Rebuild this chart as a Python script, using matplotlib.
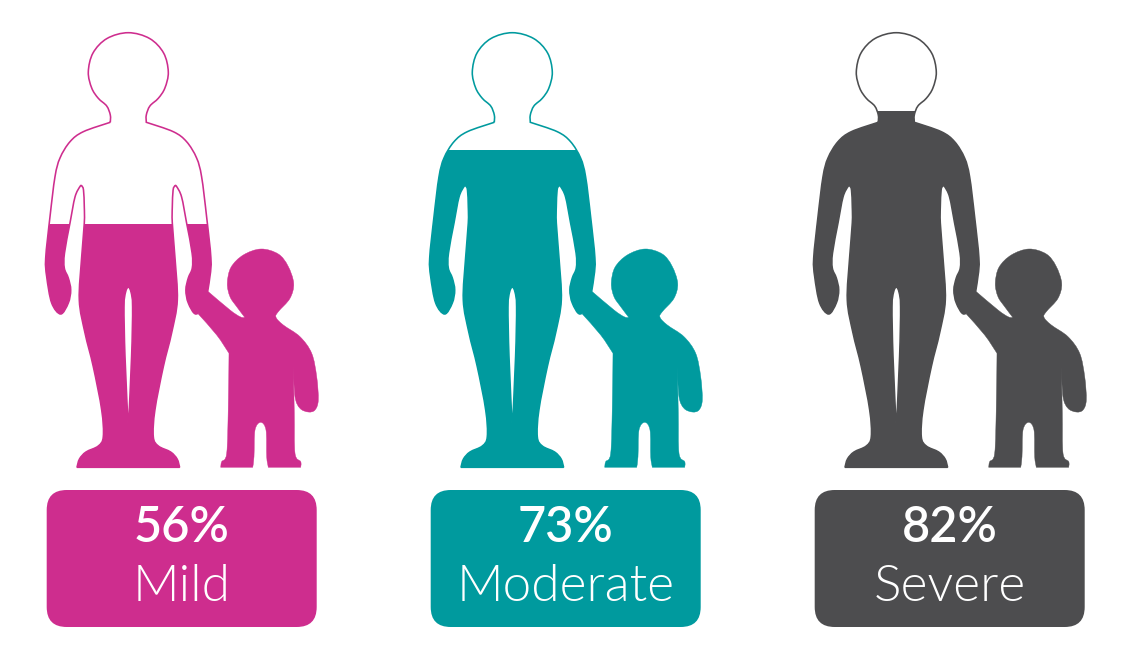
import numpy as np
import matplotlib
matplotlib.use('Agg')
import matplotlib.pyplot as plt
from matplotlib.path import Path
from matplotlib.patches import PathPatch, FancyBboxPatch

# Chart data
labels = ['Mild', 'Moderate', 'Severe']
percents = [56, 73, 82]
colors = ['#CE2D8E', '#009A9E', '#4D4D4F']
shifts = [0, 384, 768]

# Silhouettes, traced in pixels for the first (Mild) figure
MID = 128.3
TOP = 32.7
FOOT = 467.3

head = [(110.3, 122.3), (110.3, 115), (106.7, 106), (98.3, 98.3), (91.7, 88), (88.3, 72),
        (93, 53), (107, 38.5), (128.3, 32.7)]
arm = [(110.3, 122.3), (83.3, 131.7), (70, 141.7), (60, 158), (55, 176.7), (50, 216.7),
       (45.7, 258), (46.7, 276.7), (51.7, 303), (60.7, 314), (68.3, 303), (70.7, 290),
       (68.3, 278), (64.3, 268), (64.5, 253), (70, 223), (75, 197), (80, 186.5), (81.7, 185.7)]
leg = [(81.7, 185.7), (83.5, 190), (84.3, 207), (84.3, 223), (81.7, 256.7), (79.3, 300), (85, 333),
       (93.3, 366.7), (101.7, 410), (103.3, 436.7), (98.3, 446), (86, 452), (79.5, 459), (77, FOOT)]
gap = [(128.3, 286), (125.6, 292), (124, 306.7), (125, 356.7), (128.3, 430)]

child_segments = [
    [(245, 317.7), (236.7, 306.7), (230, 296.7), (227.3, 283.3), (231, 267.3), (243.3, 255),
     (261, 249), (278.3, 254), (288, 266), (293.7, 283.3), (290, 298.3), (278.3, 311.7),
     (276, 317.3), (283.3, 325), (300, 336.7), (311.7, 353.3), (316.7, 376.7), (318.3, 400),
     (315, 410), (308.3, 412), (300, 408.3), (295, 396.7), (293.3, 365)],
    [(293.3, 365), (294.3, 413), (295, 453.3), (300.7, 461.7), (300.7, FOOT)],
    [(300.7, FOOT), (268.3, FOOT)],
    [(268.3, FOOT), (266.7, 456.7), (266, 430), (260.7, 422.3), (255, 430), (254, 456.7), (252.7, FOOT)],
    [(252.7, FOOT), (220.7, FOOT)],
    [(220.7, FOOT), (221.7, 461.7), (226.7, 453.3), (228.3, 406.7), (229, 353.3)],
    [(229, 353.3), (216.7, 335), (198.3, 314)],
    [(198.3, 314), (208.3, 291.7)],
    [(208.3, 291.7), (230, 310), (240, 316.7), (245, 317.7)],
]


def flip(points):
    return [(2 * MID - x, y) for x, y in points]


def mirror(points):
    return flip(points)[::-1]


def spline(segments, dx):
    # Catmull-Rom through each segment, sharp corners where segments meet
    verts = [segments[0][0]]
    codes = [Path.MOVETO]
    for seg in segments:
        p = np.array(seg, dtype=float)
        full = np.vstack([p[0], p, p[-1]])
        for i in range(1, len(full) - 2):
            c1 = full[i] + (full[i + 1] - full[i - 1]) / 6
            c2 = full[i + 1] - (full[i + 2] - full[i]) / 6
            verts += [tuple(c1), tuple(c2), tuple(full[i + 1])]
            codes += [Path.CURVE4] * 3
    verts = [(x + dx, y) for x, y in verts]
    return verts, codes


def adult_path(dx):
    outer = [head + mirror(head)[1:], flip(arm), flip(leg),
             [(2 * MID - 77, FOOT), (77, FOOT)], leg[::-1], arm[::-1]]
    verts, codes = spline(outer, dx)
    v2, c2 = spline([gap, mirror(gap)], dx)
    return Path(verts + v2, codes + c2)


fig = plt.figure(figsize=(11.31, 6.62), dpi=100)
ax = fig.add_axes([0, 0, 1, 1])
ax.set_xlim(0, 1131)
ax.set_ylim(662, 0)
ax.axis('off')

for label, pct, color, dx in zip(labels, percents, colors, shifts):
    # Adult outline, filled up to the share from the feet
    outline = PathPatch(adult_path(dx), facecolor='none', edgecolor=color, lw=1.15, zorder=2)
    ax.add_patch(outline)
    level = (FOOT - TOP) * pct / 100
    bar = ax.bar(MID + dx, -level, bottom=FOOT, width=190, color=color, lw=0, zorder=2)[0]
    bar.set_clip_path(outline)

    # Child
    verts, codes = spline(child_segments, dx)
    ax.add_patch(PathPatch(Path(verts, codes), facecolor=color, edgecolor=color, lw=0.3, zorder=3))

    # Label box
    ax.add_patch(FancyBboxPatch((46.7 + dx + 20, 490 + 20), 270 - 40, 137 - 40,
                                boxstyle='round,pad=20,rounding_size=20',
                                facecolor=color, edgecolor='none', zorder=2))
    ax.text(181.7 + dx, 541.7, f'{pct}%', color='white', fontsize=35, fontweight=600,
            family='Lato', ha='center', va='baseline', zorder=4)
    ax.text(181.7 + dx, 600.7, label, color='white', fontsize=37, fontweight=300,
            family='Lato', ha='center', va='baseline', zorder=4)

fig.savefig('out.png', dpi=100)
